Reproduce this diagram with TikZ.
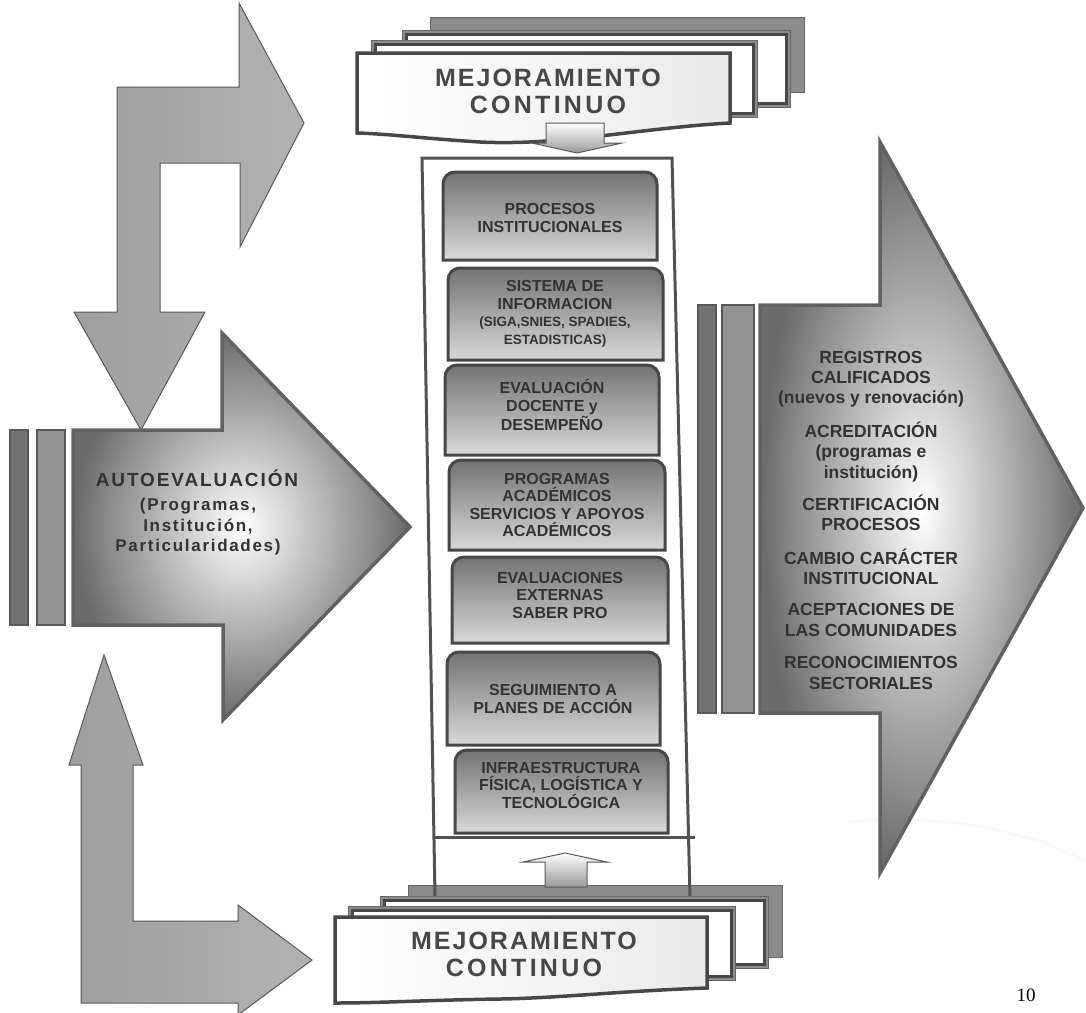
\documentclass[tikz,border=0pt]{standalone}
\usepackage{fontspec}
\setmainfont{Liberation Sans}
\newfontfamily\spacedfont{Liberation Sans}[LetterSpace=10]
\newfontfamily\bannerfont{Liberation Sans}[LetterSpace=8]
\newfontfamily\pagefont{Liberation Serif}

\tikzstyle{bentarrow} = [draw=black!65, line width=1pt, left color=black!38, right color=black!30]
\tikzstyle{bigarrow} = [draw=black!62, line width=3.5pt, inner color=white, outer color=black!58]
\tikzstyle{stripebar} = [draw=black!65, line width=2pt, fill=black!42]
\tikzstyle{colframe} = [draw=black!68, line width=3pt]
\tikzstyle{procbox} = [draw=black!72, line width=3pt, top color=black!55, bottom color=black!15]
\tikzstyle{boxtext} = [align=center, text=black!80, font=\fontsize{16}{17.5}\selectfont\bfseries]
\tikzstyle{restext} = [align=center, text=black!80, font=\fontsize{17.5}{20.3}\selectfont\bfseries]
\tikzstyle{sheetrim} = [draw=black!60, line width=1pt, fill=black!45]
\tikzstyle{sheetface} = [draw=black!72, line width=3pt, fill=white]
\tikzstyle{frontsheet} = [draw=black!72, line width=3.5pt, left color=white, right color=black!8]
\tikzstyle{linkarrow} = [draw=black!65, line width=1pt, top color=white, bottom color=black!40]
\tikzstyle{bannertext} = [align=center, text=black!72, font=\fontsize{25}{27}\selectfont\bannerfont\bfseries]

\begin{document}
\begin{tikzpicture}[x=1pt, y=-1pt, line join=miter]
	%\draw[help lines] (0,0) grid[step=100] (1086,1012);
	\useasboundingbox (0,0) rectangle (1086,1012);
	
	\draw[cyan!5, line width=3pt] (850,822) .. controls (930,812) and (1030,830) .. (1086,862);
	
	% bent arrows on the left
	\draw[bentarrow] (117,87) -- (239,87) -- (239,3) -- (304,123) -- (240,247) -- (240,163) -- (160,163)
		-- (160,312) -- (205,312) -- (141,430) -- (74,312) -- (117,312) -- cycle;
	\draw[bentarrow] (104,655) -- (143,765) -- (133,765) -- (133,921) -- (238,921) -- (238,905) -- (312,960)
		-- (238,1015) -- (238,1003) -- (81,1003) -- (81,765) -- (69,765) -- cycle;
	
	% big arrows
	\draw[bigarrow] (73,430) -- (222,430) -- (222,333) -- (410,527) -- (223,720) -- (223,625) -- (73,625) -- cycle;
	\draw[stripebar, fill=black!55] (10,430) rectangle (28,625);
	\draw[stripebar] (37,430) rectangle (65,625);
	
	\draw[bigarrow] (760,305) -- (880,305) -- (880,142) -- (1083,508) -- (880,873) -- (880,713) -- (760,713) -- cycle;
	\draw[stripebar, fill=black!55] (698,305) rectangle (716,713);
	\draw[stripebar] (722,305) rectangle (754,713);
	
	% bottom banner, back sheet
	\filldraw[sheetrim] (408,885) rectangle (782,957);
	
	% column
	\draw[colframe] (435,897) -- (422,158) -- (672,158) -- (690,897);
	\draw[colframe] (434,837) -- (695,837);
	
	\foreach \n/\lx/\rx/\ty/\by in {1/443/657/172/260, 2/448/663/268/360, 3/445/659/365/455,
		4/449/665/460/550, 5/452/668/557/643, 6/447/660/652/745, 7/455/668/750/833}
	\draw[procbox] (\lx,\by) [rounded corners=12pt] -- (\lx,\ty) -- (\rx,\ty) [sharp corners] -- (\rx,\by) -- cycle;
	
	\node[boxtext] (box1) at (550,218) {PROCESOS\\INSTITUCIONALES};
	\node[boxtext] (box2) at (555,314) {SISTEMA DE\\INFORMACION\\\fontsize{13.5}{15.5}\selectfont(SIGA,SNIES, SPADIES,\\\fontsize{13.5}{15.5}\selectfont ESTADISTICAS)};
	\node[boxtext] (box3) at (552,405) {EVALUACIÓN\\DOCENTE y\\DESEMPEÑO};
	\node[boxtext] (box4) at (557,505) {PROGRAMAS\\ACADÉMICOS\\SERVICIOS Y APOYOS\\ACADÉMICOS};
	\node[boxtext] (box5) at (560,595) {EVALUACIONES\\EXTERNAS\\SABER PRO};
	\node[boxtext] (box6) at (553,699) {SEGUIMIENTO A\\PLANES DE ACCIÓN};
	\node[boxtext] (box7) at (561,785) {INFRAESTRUCTURA\\FÍSICA, LOGÍSTICA Y\\TECNOLÓGICA};
	
	% bottom banner
	\foreach \lx/\ty/\rx/\by in {380/896/768/968, 348/906/735/980} {
		\filldraw[sheetrim] (\lx,\ty) rectangle (\rx,\by);
		\filldraw[sheetface] (\lx+4,\ty+4) rectangle (\rx-4,\by-4);
	}
	\filldraw[frontsheet] (335,917) -- (707,917) -- (707,988) .. controls (620,991) and (560,998) .. (500,999)
		.. controls (430,1000) and (380,1003) .. (335,1003) -- cycle;
	\node[bannertext] (mejbot) at (524,954) {MEJORAMIENTO\\\addfontfeature{LetterSpace=13}CONTINUO};
	\draw[linkarrow] (565,853) -- (607,862) -- (587,862) -- (587,887) -- (545,887) -- (545,862) -- (523,862) -- cycle;
	
	% top banner
	\filldraw[sheetrim] (430,17) rectangle (804,92);
	\foreach \lx/\ty/\rx/\by in {402/30/790/107, 371/40/757/117} {
		\filldraw[sheetrim] (\lx,\ty) rectangle (\rx,\by);
		\filldraw[sheetface] (\lx+4,\ty+4) rectangle (\rx-4,\by-4);
	}
	\filldraw[frontsheet] (357,53) -- (730,53) -- (730,123) .. controls (640,128) and (560,146) .. (480,142)
		.. controls (430,139) and (390,134) .. (357,133) -- cycle;
	\node[bannertext] (mejtop) at (548,91) {MEJORAMIENTO\\\addfontfeature{LetterSpace=13}CONTINUO};
	\draw[linkarrow] (546,123) -- (604,123) -- (604,143) -- (622,143) -- (577,153) -- (532,143) -- (546,143) -- cycle;
	
	% texts in the arrows
	\node[text=black!80, font=\fontsize{19}{21}\selectfont\spacedfont\bfseries] (autotitle) at (197,478) {AUTOEVALUACIÓN};
	\node[align=center, text=black!80, font=\fontsize{17}{20.5}\selectfont\spacedfont\bfseries] (autosub) at (198,527)
		{(Programas,\\Institución,\\Particularidades)};
	
	\foreach \n/\y/\txt in {1/379/{REGISTROS\\CALIFICADOS\\(nuevos y renovación)},
		2/452/{ACREDITACIÓN\\(programas e\\institución)}, 3/513/{CERTIFICACIÓN\\PROCESOS},
		4/567/{CAMBIO CARÁCTER\\INSTITUCIONAL}, 5/620/{ACEPTACIONES DE\\LAS COMUNIDADES},
		6/673/{RECONOCIMIENTOS\\SECTORIALES}}
	\node[restext] (res\n) at (871,\y) {\txt};
	
	\node[font=\fontsize{19}{21}\selectfont\pagefont] (pnum) at (1026,995) {10};
\end{tikzpicture}
\end{document}
